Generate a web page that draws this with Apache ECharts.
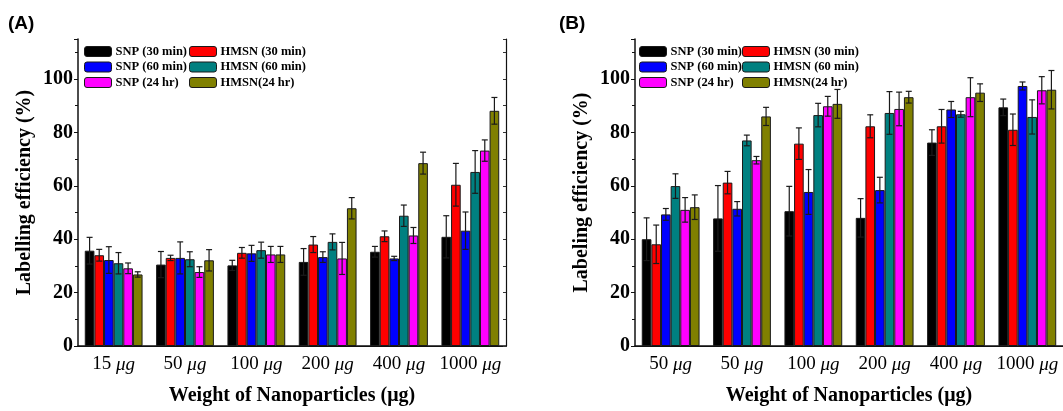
<!DOCTYPE html>
<html lang="en">
  <head>
    <meta charset="UTF-8" />
    <title>Labelling efficiency</title>
    <style>
      html, body { margin: 0; padding: 0; background: #fff; overflow: hidden; }
    </style>
  </head>
  <body>
    <div id="main" style="width: 1063px; height: 411px"></div>

    <script src="https://cdn.jsdelivr.net/npm/echarts@6/dist/echarts.min.js"></script>
    <script>
      // categories (x axis)
      const categoriesA = ['15 μg', '50 μg', '100 μg', '200 μg', '400 μg', '1000 μg']
      const categoriesB = ['50 μg', '50 μg', '100 μg', '200 μg', '400 μg', '1000 μg']

      const seriesNames = ['SNP (30 min)', 'HMSN (30 min)', 'SNP (60 min)', 'HMSN (60 min)', 'SNP (24 hr)', 'HMSN(24 hr)']
      const seriesColors = ['#000000', '#ff0000', '#0000ff', '#008080', '#ff00ff', '#808000']

      // panel A values (%), one array per series
      const snp30A = [35.7, 30.5, 30.2, 31.5, 35.3, 40.9]
      const hmsn30A = [34.0, 33.0, 34.9, 38.0, 41.1, 60.4]
      const snp60A = [32.2, 33.0, 34.7, 33.3, 32.8, 43.2]
      const hmsn60A = [31.0, 32.5, 35.9, 39.0, 48.8, 65.2]
      const snp24A = [29.1, 27.7, 34.3, 32.8, 41.4, 73.2]
      const hmsn24A = [26.8, 32.1, 34.3, 51.6, 68.5, 88.1]
      // panel A error (±)
      const snp30AErr = [5.0, 4.9, 1.9, 5.0, 2.0, 7.9]
      const hmsn30AErr = [2.2, 1.0, 2.0, 3.0, 2.0, 8.0]
      const snp60AErr = [5.0, 6.0, 3.0, 2.0, 0.8, 7.0]
      const hmsn60AErr = [4.0, 2.8, 3.0, 3.0, 4.0, 8.0]
      const snp24AErr = [2.0, 2.0, 3.0, 6.0, 3.0, 4.0]
      const hmsn24AErr = [1.0, 4.0, 3.0, 4.0, 4.1, 5.0]

      // panel B values (%)
      const snp30B = [40.0, 47.8, 50.5, 48.0, 76.2, 89.4]
      const hmsn30B = [38.1, 61.2, 75.8, 82.3, 82.3, 81.0]
      const snp60B = [49.3, 51.4, 57.7, 58.4, 88.6, 97.4]
      const hmsn60B = [59.9, 77.0, 86.5, 87.3, 86.8, 85.8]
      const snp24B = [51.0, 69.6, 89.8, 88.8, 93.2, 95.8]
      const hmsn24B = [52.0, 86.0, 90.7, 93.2, 94.9, 96.0]
      // panel B error (±)
      const snp30BErr = [8.0, 12.3, 9.3, 7.2, 4.8, 3.1]
      const hmsn30BErr = [7.2, 4.2, 5.9, 4.3, 6.3, 5.9]
      const snp60BErr = [2.2, 2.7, 8.4, 4.8, 3.0, 1.5]
      const hmsn60BErr = [4.6, 2.0, 4.4, 8.0, 1.1, 6.4]
      const snp24BErr = [4.6, 1.4, 3.7, 6.3, 7.3, 5.1]
      const hmsn24BErr = [4.6, 3.4, 5.4, 2.2, 3.3, 7.2]

      // y ticks
      const yMin = 0
      const yMax = 115
      const yInterval = 20

      const valuesA = [snp30A, hmsn30A, snp60A, hmsn60A, snp24A, hmsn24A]
      const errorsA = [snp30AErr, hmsn30AErr, snp60AErr, hmsn60AErr, snp24AErr, hmsn24AErr]
      const valuesB = [snp30B, hmsn30B, snp60B, hmsn60B, snp24B, hmsn24B]
      const errorsB = [snp30BErr, hmsn30BErr, snp60BErr, hmsn60BErr, snp24BErr, hmsn24BErr]

      const serif = 'Liberation Serif'
      const gapRatio = 0.19

      function catLabel(v) {
        const parts = v.split(' ')
        return '{n|' + parts[0] + ' }{u|' + parts[1] + '}'
      }

      function bottomAxis(gridIndex, cats) {
        return {
          type: 'category',
          gridIndex: gridIndex,
          data: cats,
          axisLine: { lineStyle: { color: '#111', width: 1.5 } },
          axisTick: { inside: true, length: 4, lineStyle: { color: '#333' } },
          axisLabel: {
            interval: 0,
            margin: 9,
            formatter: catLabel,
            rich: {
              n: { fontFamily: serif, fontSize: 19, color: '#000' },
              u: { fontFamily: serif, fontSize: 19, fontStyle: 'italic', color: '#000' }
            }
          },
          name: 'Weight of Nanoparticles (μg)',
          nameLocation: 'middle',
          nameGap: 40,
          nameTextStyle: { fontFamily: serif, fontWeight: 'bold', fontSize: 20, color: '#000' }
        }
      }

      function topAxis(gridIndex, cats) {
        return {
          type: 'category',
          gridIndex: gridIndex,
          position: 'top',
          data: cats,
          axisLine: { lineStyle: { color: '#111', width: 1.2 } },
          axisTick: { inside: true, length: 4, lineStyle: { color: '#333' } },
          axisLabel: { show: false }
        }
      }

      function leftAxis(gridIndex, title) {
        return {
          type: 'value',
          gridIndex: gridIndex,
          min: yMin,
          max: yMax,
          interval: yInterval,
          splitLine: { show: false },
          axisLine: { show: true, lineStyle: { color: '#111', width: 1.5 } },
          axisTick: { show: true, length: 4, lineStyle: { color: '#111' } },
          minorTick: { show: true, splitNumber: 2, length: 3, lineStyle: { color: '#111' } },
          axisLabel: {
            margin: 5,
            showMaxLabel: false,
            fontFamily: serif,
            fontWeight: 'bold',
            fontSize: 20,
            color: '#000'
          },
          name: title,
          nameLocation: 'middle',
          nameGap: 43,
          nameTextStyle: { fontFamily: serif, fontWeight: 'bold', fontSize: 20, color: '#000' }
        }
      }

      // right frame; panel B's right edge falls outside the picture
      function rightAxis(gridIndex, visible) {
        return {
          type: 'value',
          gridIndex: gridIndex,
          position: 'right',
          min: yMin,
          max: yMax,
          interval: 10,
          splitLine: { show: false },
          axisLine: { show: visible, lineStyle: { color: '#111', width: 1.2 } },
          axisTick: { show: visible, inside: true, length: 3, lineStyle: { color: '#333' } },
          axisLabel: { show: false }
        }
      }

      function errorRender(params, api) {
        const cat = api.value(0)
        const s = api.value(1)
        const lo = api.value(2)
        const hi = api.value(3)
        const band = api.size([1, 0])[0]
        const groupW = band * (1 - gapRatio)
        const bw = groupW / 6
        const cx = api.coord([cat, 0])[0] - groupW / 2 + bw * (s + 0.5)
        const yLo = api.coord([cat, lo])[1]
        const yHi = api.coord([cat, hi])[1]
        const cap = 3
        const style = { stroke: '#1a1a1a', lineWidth: 1.2 }
        return {
          type: 'group',
          children: [
            { type: 'line', shape: { x1: cx, y1: yLo, x2: cx, y2: yHi }, style: style },
            { type: 'line', shape: { x1: cx - cap, y1: yHi, x2: cx + cap, y2: yHi }, style: style },
            { type: 'line', shape: { x1: cx - cap, y1: yLo, x2: cx + cap, y2: yLo }, style: style }
          ]
        }
      }

      function panelSeries(values, errors, xIdx, yIdx) {
        const list = values.map((vals, i) => ({
          name: seriesNames[i],
          type: 'bar',
          xAxisIndex: xIdx,
          yAxisIndex: yIdx,
          barGap: '0%',
          barCategoryGap: gapRatio * 100 + '%',
          itemStyle: { color: seriesColors[i], borderColor: '#1a1a1a', borderWidth: 1 },
          data: vals,
          z: 2
        }))
        const errData = []
        values.forEach((vals, i) => {
          vals.forEach((v, c) => {
            errData.push([c, i, v - errors[i][c], v + errors[i][c]])
          })
        })
        list.push({
          type: 'custom',
          xAxisIndex: xIdx,
          yAxisIndex: yIdx,
          renderItem: errorRender,
          encode: { x: 0, y: [2, 3] },
          data: errData,
          silent: true,
          z: 5
        })
        return list
      }

      function legendCol(left, names) {
        return {
          orient: 'vertical',
          left: left,
          top: 45,
          padding: 0,
          itemWidth: 27,
          itemHeight: 10,
          itemGap: 2.5,
          data: names,
          itemStyle: { borderColor: '#1a1a1a', borderWidth: 1 },
          textStyle: { fontFamily: serif, fontWeight: 'bold', fontSize: 12.5, color: '#000', padding: [0, 0, 0, -1] }
        }
      }

      const col1 = [seriesNames[0], seriesNames[2], seriesNames[4]]
      const col2 = [seriesNames[1], seriesNames[3], seriesNames[5]]

      const option = {
        animation: false,
        color: seriesColors,
        grid: [
          { left: 78, top: 39, width: 428, height: 310 },
          { left: 635, top: 39, width: 429, height: 310 }
        ],
        legend: [legendCol(84, col1), legendCol(189, col2), legendCol(639, col1), legendCol(742, col2)],
        xAxis: [bottomAxis(0, categoriesA), topAxis(0, categoriesA), bottomAxis(1, categoriesB), topAxis(1, categoriesB)],
        yAxis: [leftAxis(0, 'Labelling efficiency (%)'), rightAxis(0, true), leftAxis(1, 'Labeling efficiency (%)'), rightAxis(1, false)],
        graphic: [
          { type: 'text', left: 8, top: 14, style: { text: '(A)', font: 'bold 19px "Liberation Sans"', fill: '#000' } },
          { type: 'text', left: 559, top: 14, style: { text: '(B)', font: 'bold 19px "Liberation Sans"', fill: '#000' } }
        ],
        series: panelSeries(valuesA, errorsA, 0, 0).concat(panelSeries(valuesB, errorsB, 2, 2))
      }

      echarts.init(document.querySelector('#main')).setOption(option)
    </script>
  </body>
</html>
